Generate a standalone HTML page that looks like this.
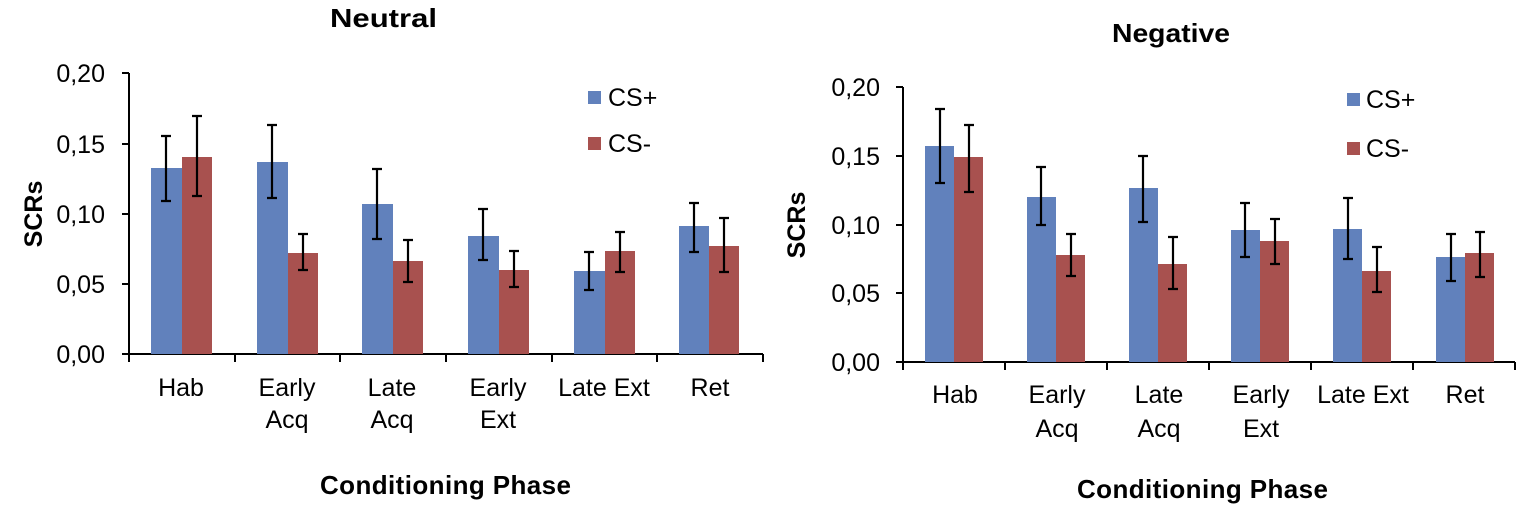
<!DOCTYPE html>
<html><head><meta charset="utf-8"><style>
html,body{margin:0;padding:0;background:#fff;}
svg{display:block;font-family:"Liberation Sans",Arial,sans-serif;}
</style></head><body>
<svg width="1520" height="508" viewBox="0 0 1520 508" xmlns="http://www.w3.org/2000/svg">
<g id="left">
<text x="330" y="27" font-size="26" font-weight="bold" textLength="107" lengthAdjust="spacingAndGlyphs">Neutral</text>
<text transform="translate(42,214) rotate(-90)" font-size="25" font-weight="bold" text-anchor="middle">SCRs</text>
<g font-size="25" text-anchor="end">
<text x="105" y="82">0,20</text><text x="105" y="153">0,15</text><text x="105" y="223">0,10</text><text x="105" y="293">0,05</text><text x="105" y="363">0,00</text>
</g>
<g stroke="#000" stroke-width="2" fill="none">
<line x1="129" y1="73" x2="129" y2="355"/>
<line x1="122" y1="73" x2="129" y2="73"/><line x1="122" y1="144" x2="129" y2="144"/><line x1="122" y1="214" x2="129" y2="214"/><line x1="122" y1="284" x2="129" y2="284"/><line x1="122" y1="354" x2="129" y2="354"/>
<line x1="129" y1="354" x2="763" y2="354"/>
<line x1="129" y1="354" x2="129" y2="362"/><line x1="235" y1="354" x2="235" y2="362"/><line x1="340" y1="354" x2="340" y2="362"/><line x1="446" y1="354" x2="446" y2="362"/><line x1="552" y1="354" x2="552" y2="362"/><line x1="657" y1="354" x2="657" y2="362"/><line x1="763" y1="354" x2="763" y2="362"/>
</g>
<g fill="#6181BC">
<rect x="151" y="168" width="31" height="186"/>
<rect x="257" y="162" width="31" height="192"/>
<rect x="362" y="204" width="31" height="150"/>
<rect x="468" y="236" width="31" height="118"/>
<rect x="574" y="271" width="31" height="83"/>
<rect x="679" y="226" width="30" height="128"/>
</g>
<g fill="#A8514F">
<rect x="182" y="157" width="30" height="197"/>
<rect x="288" y="253" width="30" height="101"/>
<rect x="393" y="261" width="30" height="93"/>
<rect x="499" y="270" width="30" height="84"/>
<rect x="605" y="251" width="30" height="103"/>
<rect x="709" y="246" width="30" height="108"/>
</g>
<g stroke="#000" stroke-width="2.2">
<path d="M166 136V201M161 136H171M161 201H171"/>
<path d="M197 116V196M192 116H202M192 196H202"/>
<path d="M272 125V198M267 125H277M267 198H277"/>
<path d="M303 234V270M298 234H308M298 270H308"/>
<path d="M377 169V239M372 169H382M372 239H382"/>
<path d="M408 240V282M403 240H413M403 282H413"/>
<path d="M483 209V260M478 209H488M478 260H488"/>
<path d="M514 251V287M509 251H519M509 287H519"/>
<path d="M589 252V290M584 252H594M584 290H594"/>
<path d="M620 232V272M615 232H625M615 272H625"/>
<path d="M694 203V252M689 203H699M689 252H699"/>
<path d="M724 218V272M719 218H729M719 272H729"/>
</g>
<rect x="588" y="91" width="13" height="13" fill="#6181BC"/>
<rect x="588" y="137" width="13" height="13" fill="#A8514F"/>
<g font-size="25"><text x="608" y="106">CS+</text><text x="608" y="152">CS-</text></g>
<g font-size="25" text-anchor="middle">
<text x="181" y="396">Hab</text>
<text x="287" y="396">Early</text><text x="287" y="428">Acq</text>
<text x="392" y="396">Late</text><text x="392" y="428">Acq</text>
<text x="498" y="396">Early</text><text x="498" y="428">Ext</text>
<text x="604" y="396">Late Ext</text>
<text x="710" y="396">Ret</text>
</g>
<text x="320" y="494" font-size="26" font-weight="bold" textLength="251" lengthAdjust="spacing">Conditioning Phase</text>
</g>

<g id="right">
<text x="1112" y="42" font-size="26" font-weight="bold" textLength="118" lengthAdjust="spacingAndGlyphs">Negative</text>
<text transform="translate(805,225) rotate(-90)" font-size="25" font-weight="bold" text-anchor="middle">SCRs</text>
<g font-size="25" text-anchor="end">
<text x="880" y="96">0,20</text><text x="880" y="165">0,15</text><text x="880" y="234">0,10</text><text x="880" y="302">0,05</text><text x="880" y="371">0,00</text>
</g>
<g stroke="#000" stroke-width="2" fill="none">
<line x1="903" y1="87" x2="903" y2="363"/>
<line x1="896" y1="87" x2="903" y2="87"/><line x1="896" y1="156" x2="903" y2="156"/><line x1="896" y1="225" x2="903" y2="225"/><line x1="896" y1="293" x2="903" y2="293"/><line x1="896" y1="362" x2="903" y2="362"/>
<line x1="903" y1="362" x2="1515" y2="362"/>
<line x1="903" y1="362" x2="903" y2="370"/><line x1="1005" y1="362" x2="1005" y2="370"/><line x1="1107" y1="362" x2="1107" y2="370"/><line x1="1209" y1="362" x2="1209" y2="370"/><line x1="1311" y1="362" x2="1311" y2="370"/><line x1="1413" y1="362" x2="1413" y2="370"/><line x1="1515" y1="362" x2="1515" y2="370"/>
</g>
<g fill="#6181BC">
<rect x="925" y="146" width="29" height="216"/>
<rect x="1027" y="197" width="29" height="165"/>
<rect x="1129" y="188" width="29" height="174"/>
<rect x="1231" y="230" width="29" height="132"/>
<rect x="1333" y="229" width="29" height="133"/>
<rect x="1436" y="257" width="29" height="105"/>
</g>
<g fill="#A8514F">
<rect x="954" y="157" width="29" height="205"/>
<rect x="1056" y="255" width="29" height="107"/>
<rect x="1158" y="264" width="29" height="98"/>
<rect x="1260" y="241" width="29" height="121"/>
<rect x="1362" y="271" width="29" height="91"/>
<rect x="1465" y="253" width="29" height="109"/>
</g>
<g stroke="#000" stroke-width="2.2">
<path d="M940 109V183M935 109H945M935 183H945"/>
<path d="M969 125V192M964 125H974M964 192H974"/>
<path d="M1041 167V225M1036 167H1046M1036 225H1046"/>
<path d="M1071 234V276M1066 234H1076M1066 276H1076"/>
<path d="M1143 156V222M1138 156H1148M1138 222H1148"/>
<path d="M1173 237V289M1168 237H1178M1168 289H1178"/>
<path d="M1245 203V257M1240 203H1250M1240 257H1250"/>
<path d="M1275 219V264M1270 219H1280M1270 264H1280"/>
<path d="M1348 198V259M1343 198H1353M1343 259H1353"/>
<path d="M1377 247V292M1372 247H1382M1372 292H1382"/>
<path d="M1451 234V281M1446 234H1456M1446 281H1456"/>
<path d="M1480 232V277M1475 232H1485M1475 277H1485"/>
</g>
<rect x="1347" y="93" width="13" height="13" fill="#6181BC"/>
<rect x="1347" y="142" width="13" height="13" fill="#A8514F"/>
<g font-size="25"><text x="1366" y="108">CS+</text><text x="1366" y="157">CS-</text></g>
<g font-size="25" text-anchor="middle">
<text x="955" y="403">Hab</text>
<text x="1057" y="403">Early</text><text x="1057" y="437">Acq</text>
<text x="1159" y="403">Late</text><text x="1159" y="437">Acq</text>
<text x="1261" y="403">Early</text><text x="1261" y="437">Ext</text>
<text x="1363" y="403">Late Ext</text>
<text x="1465" y="403">Ret</text>
</g>
<text x="1077" y="498" font-size="26" font-weight="bold" textLength="251" lengthAdjust="spacing">Conditioning Phase</text>
</g>
</svg>
</body></html>
